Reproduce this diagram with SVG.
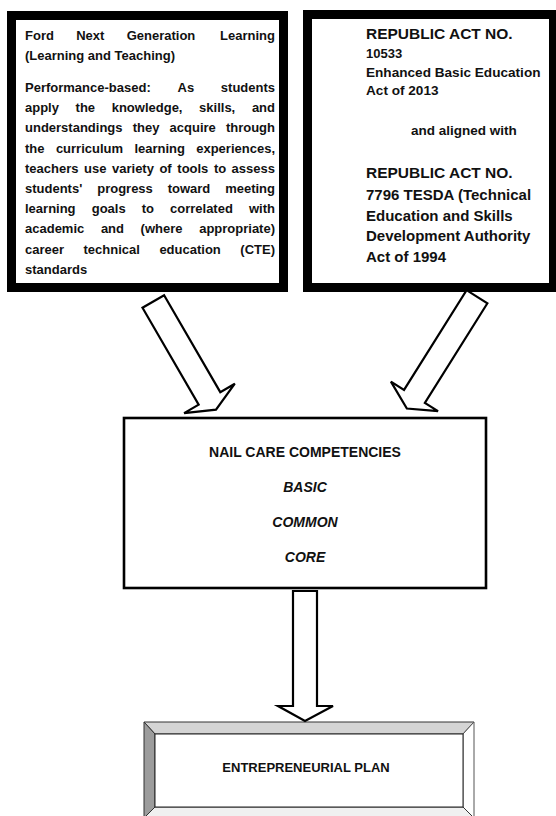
<svg xmlns="http://www.w3.org/2000/svg" width="556" height="816" viewBox="0 0 556 816">
<style>
text{font-family:"Liberation Sans",Arial,sans-serif;font-weight:bold;fill:#111}
.b{font-size:13px}
.r{text-anchor:end}
.c{text-anchor:middle}
.i{font-style:italic}
.thick{fill:#fff;stroke:#000;stroke-width:9}
.arr{fill:#fff;stroke:#000;stroke-width:2.2;stroke-linejoin:miter}
</style>
<rect width="556" height="816" fill="#fff"/>
<g id="ford">
<rect class="thick" x="11.5" y="15.5" width="272" height="272"/>
<text class="b" y="40"><tspan x="25">Ford</tspan><tspan x="76.2">Next</tspan><tspan x="126.7">Generation</tspan><tspan x="275" class="r">Learning</tspan></text>
<text class="b" x="25" y="60">(Learning and Teaching)</text>
<text class="b" y="92"><tspan x="25">Performance-based:</tspan><tspan x="177.5">As</tspan><tspan x="275" class="r">students</tspan></text>
<text class="b" y="112.2"><tspan x="25">apply</tspan><tspan x="75.6">the</tspan><tspan x="111.7">knowledge,</tspan><tspan x="199.1">skills,</tspan><tspan x="275" class="r">and</tspan></text>
<text class="b" y="132.4"><tspan x="25">understandings</tspan><tspan x="132.7">they</tspan><tspan x="169.6">acquire</tspan><tspan x="275" class="r">through</tspan></text>
<text class="b" y="152.6"><tspan x="25">the</tspan><tspan x="55.9">curriculum</tspan><tspan x="134.4">learning</tspan><tspan x="275" class="r">experiences,</tspan></text>
<text class="b" y="172.8"><tspan x="25">teachers</tspan><tspan x="84">use</tspan><tspan x="112">variety</tspan><tspan x="159.4">of</tspan><tspan x="177.3">tools</tspan><tspan x="213.9">to</tspan><tspan x="275" class="r">assess</tspan></text>
<text class="b" y="193"><tspan x="25">students'</tspan><tspan x="97.2">progress</tspan><tspan x="167.7">toward</tspan><tspan x="275" class="r">meeting</tspan></text>
<text class="b" y="213.2"><tspan x="25">learning</tspan><tspan x="91.7">goals</tspan><tspan x="141.7">to</tspan><tspan x="170">correlated</tspan><tspan x="275" class="r">with</tspan></text>
<text class="b" y="233.4"><tspan x="25">academic</tspan><tspan x="100.9">and</tspan><tspan x="140.6">(where</tspan><tspan x="275" class="r">appropriate)</tspan></text>
<text class="b" y="253.6"><tspan x="25">career</tspan><tspan x="83.5">technical</tspan><tspan x="159.4">education</tspan><tspan x="275" class="r">(CTE)</tspan></text>
<text class="b" x="25" y="273.8">standards</text>
</g>
<g id="republic">
<rect class="thick" x="307.5" y="14.5" width="246" height="273"/>
<text x="366" y="39" font-size="15.5">REPUBLIC ACT NO.</text>
<text x="366" y="58" font-size="13">10533</text>
<text x="366" y="77" font-size="13.6">Enhanced Basic Education</text>
<text x="366" y="95" font-size="13.6">Act of 2013</text>
<text x="411" y="135" font-size="13.5">and aligned with</text>
<text x="366" y="178" font-size="15.5">REPUBLIC ACT NO.</text>
<text x="366" y="200" font-size="15">7796 TESDA (Technical</text>
<text x="366" y="221" font-size="15">Education and Skills</text>
<text x="366" y="241" font-size="15">Development Authority</text>
<text x="366" y="262" font-size="15">Act of 1994</text>
</g>
<g id="competencies">
<rect x="124" y="418" width="362" height="170" fill="#fff" stroke="#000" stroke-width="2.6"/>
<text class="c" x="305" y="457" font-size="14">NAIL CARE COMPETENCIES</text>
<text class="c i" x="305" y="492" font-size="14">BASIC</text>
<text class="c i" x="305" y="527" font-size="14">COMMON</text>
<text class="c i" x="305" y="562" font-size="14">CORE</text>
</g>
<g id="plan">
<polygon points="144,722 474,722 463,734 155,734" fill="#d4d4d4" stroke="#333" stroke-width="1"/>
<polygon points="144,722 155,734 155,807 144,818" fill="#9c9c9c" stroke="#333" stroke-width="1"/>
<polygon points="474,722 474,818 463,807 463,734" fill="#fff" stroke="#555" stroke-width="1"/>
<polygon points="144,818 155,807 463,807 474,818" fill="#f0f0f0" stroke="#333" stroke-width="1"/>
<rect x="155" y="734" width="308" height="73" fill="#fff" stroke="#222" stroke-width="1"/>
<text class="c" x="306" y="772" font-size="13">ENTREPRENEURIAL PLAN</text>
</g>
<g id="connectors">
<polygon class="arr" transform="translate(153.3,301.5) rotate(59.9)" points="0,-12.5 112,-12.5 112,-29.3 125,0 112,29.3 112,12.5 0,12.5"/>
<polygon class="arr" transform="translate(477,296.7) rotate(122.1)" points="0,-12.3 117.7,-12.3 117.7,-27.8 132,0 117.7,27.8 117.7,12.3 0,12.3"/>
<polygon class="arr" stroke-width="2.6" points="293,591 317,591 317,706 333,706 305,721 278,706 293,706"/>
</g>
</svg>
